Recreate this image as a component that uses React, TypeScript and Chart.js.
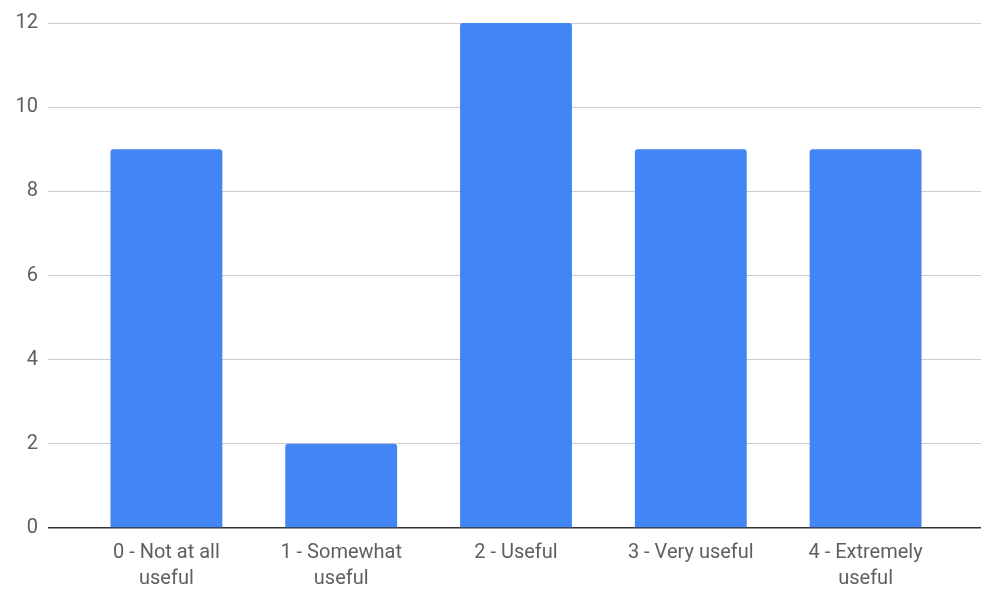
import React, { useEffect, useRef } from "react";
import { Chart, registerables } from "chart.js";

Chart.register(...registerables);

const categories: string[][] = [
  ["0 - Not at all", "useful"],
  ["1 - Somewhat", "useful"],
  ["2 - Useful"],
  ["3 - Very useful"],
  ["4 - Extremely", "useful"],
];
const counts: number[] = [9, 2, 12, 9, 9];
const yMin = 0;
const yMax = 12;
const yStep = 2;

const gridColor = (ctx: any) => (ctx.tick && ctx.tick.value === 0 ? "#333333" : "#cccccc");

export default function App() {
  const ref = useRef<HTMLCanvasElement | null>(null);
  useEffect(() => {
    document.body.style.margin = "0";
    if (!ref.current) return;
    const chart = new Chart(ref.current, {
      type: "bar",
      data: {
        labels: categories,
        datasets: [
          {
            data: counts,
            backgroundColor: "#4285F4",
            borderRadius: 3,
            borderSkipped: "start",
            categoryPercentage: 1,
            barPercentage: 0.64,
          },
        ],
      },
      options: {
        animation: false,
        responsive: false,
        maintainAspectRatio: false,
        layout: { padding: { top: 23, left: 0, right: 0, bottom: 0 } },
        plugins: { legend: { display: false }, tooltip: { enabled: false } },
        scales: {
          x: {
            grid: { display: false },
            border: { display: false },
            ticks: {
              color: "#5f5f5f",
              font: { family: "Roboto", size: 20, lineHeight: 1.3 },
              padding: 4,
              maxRotation: 0,
              autoSkip: false,
            },
            afterFit: (s: any) => {
              s.height = 71;
            },
          },
          y: {
            position: "left",
            min: yMin,
            max: yMax,
            border: { display: false },
            grid: {
              color: gridColor,
              tickColor: gridColor,
              lineWidth: (ctx: any) => (ctx.tick && ctx.tick.value === 0 ? 1.5 : 1),
              drawTicks: true,
              tickLength: 31,
            },
            ticks: {
              stepSize: yStep,
              color: "#5f5f5f",
              font: { family: "Roboto", size: 20 },
              padding: 10,
            },
            afterFit: (s: any) => {
              s.width = 79;
            },
          },
          y2: {
            position: "right",
            min: yMin,
            max: yMax,
            border: { display: false },
            grid: {
              color: gridColor,
              tickColor: gridColor,
              lineWidth: (ctx: any) => (ctx.tick && ctx.tick.value === 0 ? 1.5 : 1),
              drawOnChartArea: false,
              drawTicks: true,
              tickLength: 28,
            },
            ticks: { stepSize: yStep, display: false },
            afterFit: (s: any) => {
              s.width = 47;
            },
          },
        },
      },
    });
    return () => chart.destroy();
  }, []);
  return (
    <div style={{ width: 1000, height: 599, background: "#ffffff" }}>
      <canvas ref={ref} width={1000} height={599} style={{ display: "block" }} />
    </div>
  );
}
